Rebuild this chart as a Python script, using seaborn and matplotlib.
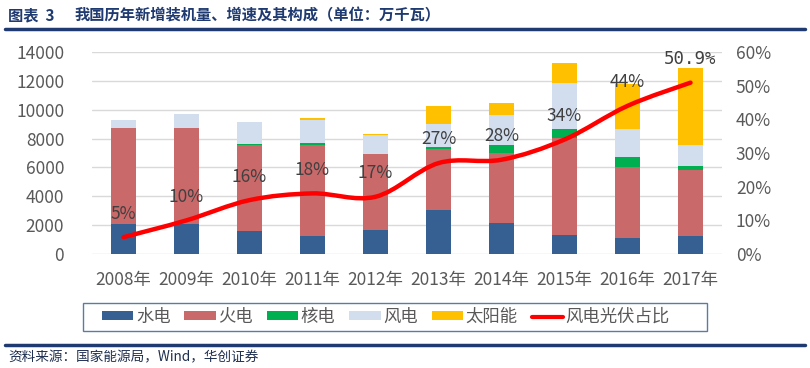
import numpy as np
import pandas as pd
import matplotlib
matplotlib.use("Agg")
import matplotlib.pyplot as plt
from matplotlib.path import Path
from matplotlib.patches import PathPatch, Patch, Rectangle
from matplotlib.lines import Line2D
import seaborn as sns

# ---------------- data ----------------
years = ["2008年", "2009年", "2010年", "2011年", "2012年",
         "2013年", "2014年", "2015年", "2016年", "2017年"]
hydro   = [2090, 2090, 1620, 1250, 1670, 3070, 2180, 1320, 1120, 1250]
thermal = [6610, 6610, 5900, 6320, 5250, 4220, 4830, 6740, 4920, 4600]
nuclear = [0,    0,    120,  90,   0,    140,  520,  580,  670,  230]
wind    = [570,  1030, 1530, 1610, 1320, 1560, 2110, 3230, 1930, 1490]
solar   = [0,    0,    0,    180,  100,  1280, 830,  1370, 3140, 5320]
share   = [5, 10, 16, 18, 17, 27, 28, 34, 44, 50.9]
share_labels = ["5%", "10%", "16%", "18%", "17%", "27%", "28%", "34%", "44%", "50.9%"]

series_names = ["水电", "火电", "核电", "风电", "太阳能"]
series_vals = [hydro, thermal, nuclear, wind, solar]
colors = ["#376092", "#C9696A", "#00B050", "#D2DEEE", "#FFC000"]
line_color = "#FF0000"
line_name = "风电光伏占比"

# ---------------- style ----------------
sns.set_theme(style="white")
plt.rcParams["font.family"] = ["Noto Sans CJK SC", "DejaVu Sans"]

W, H = 810, 368
fig = plt.figure(figsize=(W / 100, H / 100), dpi=100)

def fx(px):
    return px / W

def fy(py):
    return 1 - py / H

ax_l, ax_r, ax_t, ax_b = 92, 722, 52, 254
ax = fig.add_axes([fx(ax_l), fy(ax_b), fx(ax_r - ax_l), (ax_b - ax_t) / H])

cum = np.zeros(len(years))
cums = []
for v in series_vals:
    cum = cum + np.array(v, dtype=float)
    cums.append(cum.copy())
# draw from top layer down so lower layers overlay
for name, c, col in reversed(list(zip(series_names, cums, colors))):
    d = pd.DataFrame({"year": years, "val": c})
    sns.barplot(data=d, x="year", y="val", color=col, width=0.4,
                saturation=1, ax=ax, edgecolor="none", linewidth=0)

ax.set_xlim(-0.5, len(years) - 0.5)
ax.set_ylim(0, 14000)
ax.set_yticks(np.arange(0, 14001, 2000))
ax.set_yticklabels([str(v) for v in range(0, 14001, 2000)])
ax.set_xlabel("")
ax.set_ylabel("")
ax.grid(axis="y", color="#D9D9D9", linewidth=1)
ax.grid(axis="x", visible=False)
ax.set_axisbelow(True)
for s in ax.spines.values():
    s.set_visible(False)
ax.tick_params(axis="y", length=0, pad=20, labelsize=12.5, labelcolor="#595959")
ax.tick_params(axis="x", length=0, pad=12.5, labelsize=12.5, labelcolor="#595959")

# ---------------- line on secondary axis ----------------
ax2 = ax.twinx()
ax2.set_ylim(0, 0.6)
ax2.set_yticks(np.arange(0, 0.61, 0.1))
ax2.set_yticklabels([f"{int(round(v*100))}%" for v in np.arange(0, 0.61, 0.1)])
for s in ax2.spines.values():
    s.set_visible(False)
ax2.tick_params(axis="y", length=0, pad=10, labelsize=12.5, labelcolor="#595959")
ax2.grid(False)

xs = np.arange(len(years), dtype=float)
ys = np.array(share) / 100.0
# smooth curve (Catmull-Rom rendered as cubic Bezier path)
verts = [(xs[0], ys[0])]
codes = [Path.MOVETO]
n = len(xs)
for i in range(n - 1):
    p0 = np.array([xs[max(i - 1, 0)], ys[max(i - 1, 0)]])
    p1 = np.array([xs[i], ys[i]])
    p2 = np.array([xs[i + 1], ys[i + 1]])
    p3 = np.array([xs[min(i + 2, n - 1)], ys[min(i + 2, n - 1)]])
    c1 = p1 + (p2 - p0) / 6.0
    c2 = p2 - (p3 - p1) / 6.0
    verts += [tuple(c1), tuple(c2), tuple(p2)]
    codes += [Path.CURVE4] * 3
ax2.add_patch(PathPatch(Path(verts, codes), facecolor="none",
                        edgecolor=line_color, linewidth=3.2,
                        capstyle="round", joinstyle="round", zorder=5))

for i, (v, lab) in enumerate(zip(ys, share_labels)):
    fam = ["DejaVu Sans Mono"] if "." in lab else ["Noto Sans CJK SC", "DejaVu Sans"]
    ax2.annotate(lab, (xs[i], v), xytext=(0, 17), textcoords="offset points",
                 ha="center", va="center", fontsize=12.5, color="#404040",
                 family=fam, zorder=6)

# ---------------- legend ----------------
handles = [Patch(facecolor=c, edgecolor="none", label=nm)
           for nm, c in zip(series_names, colors)]
handles.append(Line2D([0], [0], color=line_color, linewidth=3, label=line_name))
leg = fig.legend(handles=handles, ncol=6, loc="center left",
                 bbox_to_anchor=(fx(102), fy(317)), frameon=False,
                 fontsize=12.5, handlelength=1.8, handleheight=0.45,
                 handletextpad=0.15, columnspacing=0.8,
                 borderpad=0.0, borderaxespad=0)
for t in leg.get_texts():
    t.set_color("#595959")
fig.add_artist(Rectangle((fx(82.5), fy(331)), fx(707 - 82.5), (331 - 303) / H,
                         transform=fig.transFigure, facecolor="none",
                         edgecolor="#5B7BA6", linewidth=1.0))

# ---------------- header / footer ----------------
navy = "#1F3A70"
fig.text(fx(8), fy(15), "图表  3", ha="left", va="center", fontsize=11,
         fontweight="bold", color=navy)
fig.text(fx(75), fy(15), "我国历年新增装机量、增速及其构成（单位：万千瓦）",
         ha="left", va="center", fontsize=11, fontweight="bold", color=navy)
fig.add_artist(Line2D([fx(5), fx(805)], [fy(28.5), fy(28.5)], color=navy, linewidth=2.5))
fig.add_artist(Line2D([fx(5), fx(805)], [fy(345), fy(345)], color=navy, linewidth=2.5))
fig.text(fx(8), fy(357), "资料来源：国家能源局，Wind，华创证券",
         ha="left", va="center", fontsize=9.8, style="italic", fontweight="medium",
         color="#1F2F50")

fig.savefig("out.png", dpi=100)
